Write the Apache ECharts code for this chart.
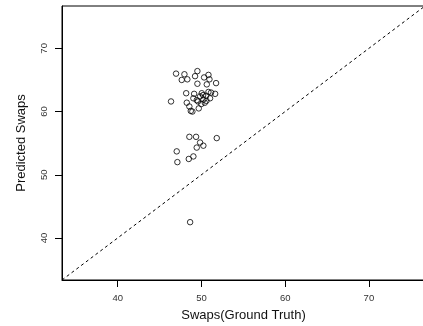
<!DOCTYPE html>
<html>
<head>
<meta charset="utf-8">
<script src="https://cdn.jsdelivr.net/npm/echarts@6/dist/echarts.min.js"></script>
<style>html,body{margin:0;padding:0;background:#fff}#c{width:423px;height:326px}</style>
</head>
<body>
<div id="c"></div>
<script>
var groundTruth = [46.97,47.97,47.65,48.32,49.24,49.52,50.32,50.84,50.96,51.75,50.64,49.52,48.18,49.13,51.64,46.37,48.25,48.56,48.73,48.92,49.68,50.04,49.84,50.23,50.40,49.44,49.04,50.84,50.56,51.03,49.99,50.6,49.6,51.15,50.2,
  48.56,49.36,49.84,50.23,49.44,51.83,47.05,47.13,48.49,49.04,48.65];
var predicted = [66.0,65.9,65.0,65.1,65.6,66.4,65.4,65.8,65.1,64.5,64.3,64.4,62.9,62.8,62.8,61.6,61.4,60.8,60.1,60.0,60.5,62.9,62.4,61.9,61.4,61.8,62.1,63.1,62.5,62.1,61.2,61.7,61.6,63.0,62.6,
  56.0,56.0,55.1,54.6,54.3,55.8,53.7,52.0,52.5,52.9,42.5];
var xTicks = [40,50,60,70];
var yTicks = [40,50,60,70];
var axisMin = 33.35, axisMax = 76.7;
var refLine = [[axisMin, axisMin],[axisMax, axisMax]];

var pts = groundTruth.map(function(v,i){return [v, predicted[i]];});
var chart = echarts.init(document.getElementById('c'), null, {renderer:'canvas'});
var font = 'Liberation Sans, Arial, Helvetica, sans-serif';
chart.setOption({
  animation:false,
  grid:{left:62, top:6, width:363, height:274, outerBoundsMode:'none', containLabel:false,
    show:true, borderColor:'#000', borderWidth:1, backgroundColor:'transparent'},
  xAxis:{type:'value', min:axisMin, max:axisMax,
    name:'Swaps(Ground Truth)', nameLocation:'middle', nameGap:29,
    nameTextStyle:{fontFamily:font, fontSize:13, color:'#111'},
    splitLine:{show:false},
    axisLine:{show:true, lineStyle:{color:'#000', width:1}},
    axisTick:{show:true, length:7, inside:false, customValues:xTicks, lineStyle:{color:'#000'}},
    axisLabel:{customValues:xTicks, fontFamily:font, fontSize:9.5, color:'#333', margin:13}
  },
  yAxis:{type:'value', min:axisMin, max:axisMax,
    name:'Predicted Swaps', nameLocation:'middle', nameGap:34,
    nameTextStyle:{fontFamily:font, fontSize:13, color:'#111'},
    splitLine:{show:false},
    axisLine:{show:true, lineStyle:{color:'#000', width:1}},
    axisTick:{show:true, length:7, inside:false, customValues:yTicks, lineStyle:{color:'#000'}},
    axisLabel:{customValues:yTicks, rotate:90, fontFamily:font, fontSize:9.5, color:'#333', margin:13}
  },
  series:[
    {type:'line', data:refLine, showSymbol:false, symbol:'none', clip:true, silent:true,
     lineStyle:{color:'#000', width:1, type:[3,3]}},
    {type:'scatter', data:pts, symbol:'circle', symbolSize:5.5,
     itemStyle:{color:'rgba(255,255,255,0)', borderColor:'#000', borderWidth:1}}
  ]
});
</script>
</body>
</html>
